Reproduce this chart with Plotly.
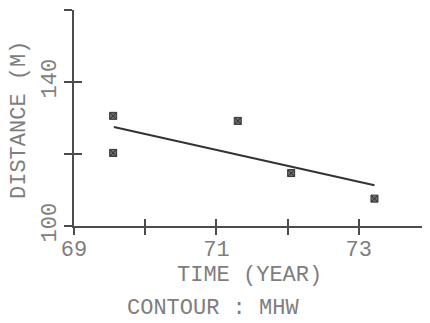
import plotly.graph_objects as go

# Data
years = [69.55, 69.55, 71.30, 72.05, 73.22]
distance = [130.6, 120.3, 129.2, 114.7, 107.6]
fit_years = [69.56, 73.22]
fit_distance = [127.5, 111.3]

x_tickvals = [69, 70, 71, 72, 73]
x_ticktext = ["69", "", "71", "", "73"]
y_tickvals = [100, 120, 140, 160]
y_ticktext = ["100", "", "140", ""]

FONT = "Liberation Mono"
FS = 22
TXT = "#7e7e7e"
AX = "#4c4c4c"

fig = go.Figure()
fig.add_trace(go.Scatter(x=fit_years, y=fit_distance, mode="lines",
                         line=dict(color="#333333", width=2), showlegend=False))
fig.add_trace(go.Scatter(x=years, y=distance, mode="markers",
                         marker=dict(symbol="square-x", size=7, color="#6a6a6a",
                                     line=dict(color="#333333", width=1)),
                         showlegend=False))
fig.add_trace(go.Scatter(x=[], y=[], xaxis="x2", yaxis="y2", showlegend=False))

common = dict(showgrid=False, zeroline=False, automargin=False)
tf = dict(family=FONT, size=FS, color=TXT)
# page body has an 8px margin, so the figure is 422x315 and offset accordingly
fig.update_layout(
    width=422, height=315,
    margin=dict(l=66, r=0, t=2, b=97),
    paper_bgcolor="white", plot_bgcolor="white",
    font=tf,
    xaxis=dict(range=[69, 74], tickvals=x_tickvals, ticktext=x_ticktext,
               ticks="outside", ticklen=7, tickwidth=2, tickcolor=AX,
               showline=True, linecolor=AX, linewidth=2,
               tickfont=tf, ticklabelstandoff=-5, **common),
    yaxis=dict(range=[100, 160], tickvals=y_tickvals, ticktext=y_ticktext,
               ticks="outside", ticklen=8, tickwidth=2, tickcolor=AX,
               showline=True, linecolor=AX, linewidth=2, tickangle=-90,
               tickfont=tf, ticklabelstandoff=-1, **common),
    xaxis2=dict(range=[69, 74], overlaying="x", anchor="y2", side="bottom",
                tickvals=x_tickvals, ticks="inside", ticklen=7, tickwidth=2,
                tickcolor=AX, showticklabels=False, showline=False, **common),
    yaxis2=dict(range=[100, 160], overlaying="y", anchor="x2", side="left",
                tickvals=y_tickvals, ticks="inside", ticklen=8, tickwidth=2,
                tickcolor=AX, showticklabels=False, showline=False, **common),
    annotations=[
        dict(text="TIME (YEAR)", xref="paper", yref="paper",
             x=(249 - 74) / 356, y=(226 - 275) / 216, xanchor="center", yanchor="middle",
             showarrow=False, font=tf),
        dict(text="CONTOUR : MHW", xref="paper", yref="paper",
             x=(213 - 74) / 356, y=(226 - 308) / 216, xanchor="center", yanchor="middle",
             showarrow=False, font=tf),
        dict(text="DISTANCE (M)", xref="paper", yref="paper", textangle=-90,
             x=(19 - 74) / 356, y=(226 - 120) / 216, xanchor="center", yanchor="middle",
             showarrow=False, font=tf),
    ],
)

fig.write_html("out.html")
